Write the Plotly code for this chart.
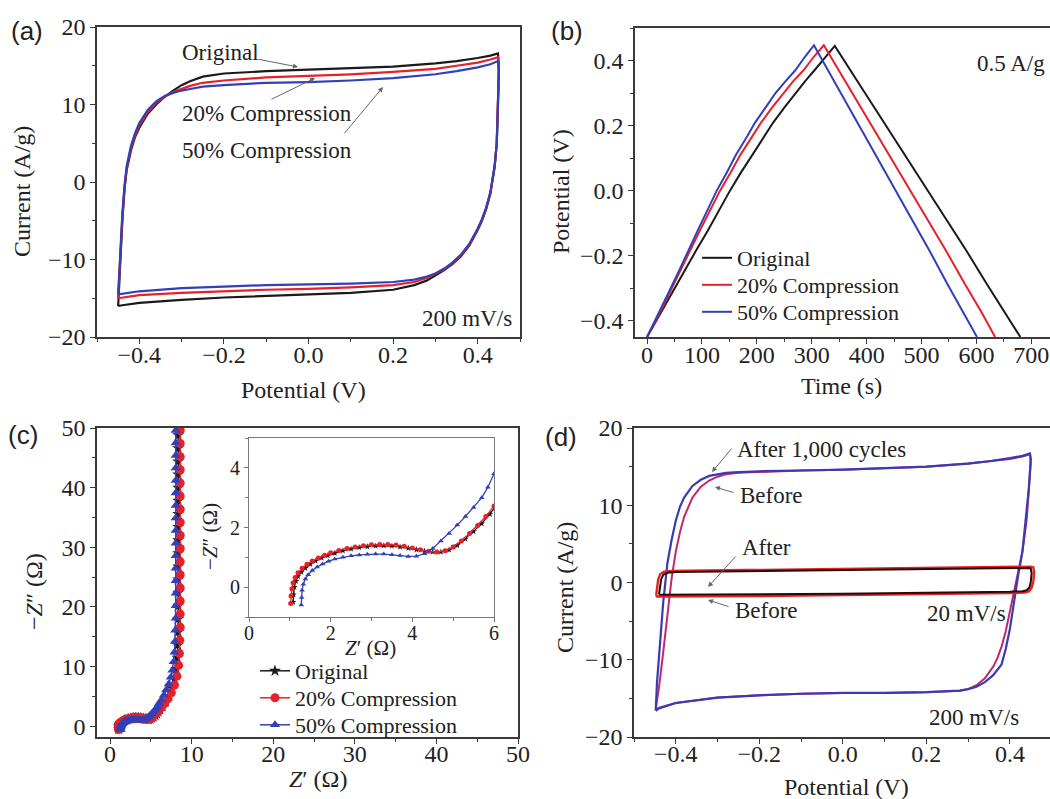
import plotly.graph_objects as go

W, H = 1050, 799
SERIF = "Liberation Serif"
SANS = "Liberation Sans"
BLACK = "#1a1a1a"
RED = "#e8202a"
BLUE = "#3040b8"

# ---------------- (a) CV at 200 mV/s ----------------
cv_v = [-0.45, -0.445, -0.44, -0.435, -0.43, -0.42, -0.41, -0.40, -0.38, -0.36, -0.34, -0.32, -0.30, -0.28, -0.25,
        -0.20, -0.10, 0.00, 0.10, 0.20, 0.30, 0.35, 0.40, 0.43, 0.448,
        0.45, 0.448, 0.445, 0.44, 0.435, 0.43, 0.42, 0.41, 0.40, 0.38, 0.36, 0.34, 0.32, 0.30, 0.28, 0.25,
        0.20, 0.10, 0.00, -0.10, -0.20, -0.30, -0.40, -0.44, -0.45]
cv_orig = [-16.0, -10.0, -5.0, -1.0, 1.5, 4.0, 5.8, 7.0, 8.8, 10.0, 11.0, 11.8, 12.5, 13.0, 13.6,
           14.0, 14.3, 14.5, 14.7, 14.9, 15.3, 15.6, 16.0, 16.3, 16.6,
           15.0, 10.0, 5.0, 2.0, 0.0, -1.5, -3.5, -5.0, -6.2, -8.2, -9.6, -10.6, -11.4, -12.1, -12.7, -13.3,
           -13.9, -14.3, -14.5, -14.7, -14.9, -15.2, -15.6, -15.9, -16.0]
cv_c20 = [-15.0, -9.0, -4.5, -0.8, 1.7, 4.3, 6.0, 7.3, 9.0, 10.2, 11.0, 11.6, 12.0, 12.4, 12.8,
          13.1, 13.5, 13.7, 13.9, 14.2, 14.6, 15.0, 15.4, 15.8, 16.1,
          14.5, 9.8, 5.0, 2.0, 0.1, -1.4, -3.4, -4.9, -6.1, -8.1, -9.5, -10.5, -11.3, -11.9, -12.4, -12.9,
          -13.3, -13.6, -13.8, -13.9, -14.1, -14.3, -14.6, -14.9, -15.0]
cv_c50 = [-14.5, -8.5, -4.0, -0.5, 2.0, 4.6, 6.3, 7.6, 9.3, 10.4, 11.1, 11.5, 11.8, 12.0, 12.3,
          12.5, 12.8, 12.9, 13.1, 13.4, 13.9, 14.3, 14.8, 15.2, 15.6,
          14.0, 9.6, 5.0, 2.0, 0.2, -1.3, -3.3, -4.8, -6.0, -8.0, -9.4, -10.4, -11.2, -11.8, -12.2, -12.6,
          -12.9, -13.1, -13.2, -13.3, -13.5, -13.7, -14.1, -14.4, -14.5]

# ---------------- (b) GCD at 0.5 A/g ----------------
t_orig = [0, 15, 30, 50, 70, 90, 110, 130, 151, 170, 190, 210, 230, 250, 270, 288, 305, 324, 342,
          380, 420, 460, 500, 540, 580, 620, 650, 680]
v_orig = [-0.45, -0.405, -0.36, -0.30, -0.24, -0.182, -0.125, -0.062, 0.0, 0.053, 0.105, 0.158, 0.21, 0.255,
          0.30, 0.337, 0.37, 0.408, 0.445,
          0.345, 0.24, 0.135, 0.03, -0.075, -0.18, -0.29, -0.37, -0.45]
t_c20 = [0, 14, 28, 45, 62, 80, 97, 115, 133, 152, 170, 189, 208, 228, 248, 266, 285, 303, 322,
         358, 395, 432, 469, 506, 543, 580, 608, 634]
v_c20 = [-0.45, -0.405, -0.36, -0.30, -0.24, -0.18, -0.12, -0.06, 0.0, 0.055, 0.11, 0.16, 0.21, 0.256,
         0.30, 0.336, 0.37, 0.41, 0.447,
         0.345, 0.24, 0.135, 0.03, -0.075, -0.18, -0.29, -0.37, -0.45]
t_c50 = [0, 13, 27, 43, 60, 76, 93, 110, 127, 145, 162, 180, 197, 216, 234, 252, 270, 287, 304,
         338, 373, 408, 443, 478, 513, 548, 575, 601]
v_c50 = [-0.45, -0.405, -0.36, -0.30, -0.24, -0.18, -0.12, -0.06, 0.0, 0.055, 0.11, 0.16, 0.21, 0.256,
         0.30, 0.336, 0.37, 0.41, 0.447,
         0.345, 0.24, 0.135, 0.03, -0.075, -0.18, -0.29, -0.37, -0.45]

# ---------------- (c) Nyquist ----------------
zr_orig = [1.08, 1.09, 1.11, 1.15, 1.2, 1.28, 1.38, 1.5, 1.63, 1.78, 1.93, 2.1, 2.3, 2.5, 2.7, 2.9, 3.1, 3.3, 3.5,
           3.7, 3.9, 4.1, 4.3, 4.5, 4.7, 4.9, 5.1, 5.3, 5.5, 5.7, 5.9, 6.1, 6.4, 6.8, 7.2, 7.6, 7.9, 8.1, 8.25,
           8.3, 8.35, 8.35, 8.35, 8.35, 8.35, 8.35, 8.35, 8.35, 8.35, 8.35, 8.35, 8.35, 8.35, 8.35, 8.35, 8.35]
zi_orig = [-0.5, -0.25, 0.0, 0.2, 0.36, 0.5, 0.64, 0.77, 0.88, 0.98, 1.06, 1.14, 1.22, 1.28, 1.33, 1.36, 1.38,
           1.39, 1.38, 1.35, 1.31, 1.26, 1.21, 1.18, 1.18, 1.25, 1.4, 1.62, 1.87, 2.13, 2.45, 2.8, 3.3, 4.1, 5.1,
           6.4, 7.9, 9.6, 11.5, 13.6, 15.8, 18.0, 20.2, 22.4, 24.6, 26.8, 29.0, 31.2, 33.4, 35.6, 37.8, 40.0,
           42.2, 44.4, 46.6, 48.8]
zr_c20 = [1.02, 1.03, 1.05, 1.08, 1.13, 1.2, 1.3, 1.42, 1.55, 1.7, 1.85, 2.0, 2.2, 2.4, 2.6, 2.8, 3.0, 3.2, 3.4,
          3.6, 3.8, 4.0, 4.2, 4.4, 4.6, 4.8, 5.0, 5.2, 5.4, 5.6, 5.8, 6.0, 6.3, 6.7, 7.1, 7.5, 7.9, 8.2, 8.4,
          8.5, 8.55, 8.6, 8.6, 8.6, 8.6, 8.6, 8.6, 8.6, 8.6, 8.6, 8.6, 8.6, 8.6, 8.6, 8.6, 8.6, 8.6]
zi_c20 = [-0.55, -0.3, -0.05, 0.15, 0.32, 0.48, 0.63, 0.77, 0.88, 0.98, 1.07, 1.15, 1.23, 1.3, 1.35, 1.39, 1.42,
          1.43, 1.43, 1.41, 1.37, 1.31, 1.25, 1.2, 1.18, 1.22, 1.35, 1.55, 1.8, 2.07, 2.37, 2.72, 3.15, 3.8,
          4.6, 5.6, 6.9, 8.4, 10.2, 12.2, 14.4, 16.6, 18.8, 21.0, 23.2, 25.4, 27.6, 29.8, 32.0, 34.2, 36.4,
          38.6, 40.8, 43.0, 45.2, 47.4, 49.6]
zr_c50 = [1.28, 1.29, 1.3, 1.33, 1.38, 1.45, 1.55, 1.67, 1.8, 1.95, 2.1, 2.3, 2.5, 2.7, 2.9, 3.1, 3.3, 3.5, 3.7,
          3.9, 4.1, 4.3, 4.5, 4.7, 4.9, 5.1, 5.3, 5.5, 5.7, 5.85, 6.0, 6.3, 6.6, 6.9, 7.2, 7.45, 7.65, 7.8, 7.9,
          7.95, 8.0, 8.05, 8.05, 8.05, 8.05, 8.05, 8.05, 8.05, 8.05, 8.05, 8.05, 8.05, 8.05, 8.05, 8.05, 8.05, 8.05]
zi_c50 = [-0.6, -0.35, -0.1, 0.1, 0.27, 0.42, 0.56, 0.68, 0.78, 0.87, 0.94, 1.0, 1.05, 1.08, 1.1, 1.11, 1.11,
          1.09, 1.06, 1.03, 1.04, 1.12, 1.3, 1.55, 1.8, 2.08, 2.37, 2.67, 3.0, 3.35, 3.8, 4.4, 5.2, 6.1, 7.1,
          8.2, 9.4, 10.8, 12.4, 14.2, 16.1, 18.1, 20.2, 22.3, 24.4, 26.5, 28.6, 30.7, 32.8, 34.9, 37.0, 39.1,
          41.2, 43.3, 45.4, 47.5, 49.6]

# ---------------- (d) cycling CVs ----------------
v200_after = [-0.448, -0.445, -0.44, -0.435, -0.43, -0.425, -0.42, -0.41, -0.40, -0.39, -0.38, -0.36, -0.34, -0.32,
              -0.30, -0.28, -0.25, -0.20, -0.10, 0.00, 0.10, 0.20, 0.30, 0.35, 0.40, 0.43, 0.448,
              0.45, 0.445, 0.44, 0.435, 0.43, 0.42, 0.41, 0.40, 0.39, 0.38, 0.36, 0.34, 0.32, 0.30, 0.28, 0.25,
              0.20, 0.10, 0.00, -0.10, -0.20, -0.30, -0.40, -0.44, -0.448]
i200_after = [-16.6, -13.0, -9.5, -5.5, -2.5, 0.0, 2.5, 5.5, 8.0, 9.8, 11.0, 12.5, 13.3, 13.8,
              14.0, 14.2, 14.3, 14.4, 14.5, 14.6, 14.8, 15.0, 15.4, 15.7, 16.1, 16.4, 16.7,
              16.0, 12.0, 9.5, 6.5, 4.0, 1.0, -2.5, -6.0, -8.6, -10.6, -12.0, -12.9, -13.5, -13.8, -14.0, -14.1,
              -14.2, -14.3, -14.3, -14.4, -14.6, -14.9, -15.6, -16.3, -16.6]
v200_before = [-0.448, -0.44, -0.43, -0.42, -0.41, -0.40, -0.39, -0.38, -0.36, -0.34, -0.32, -0.30, -0.28, -0.25,
               -0.20, -0.10, 0.00, 0.10, 0.20, 0.30, 0.35, 0.40, 0.43, 0.448,
               0.45, 0.445, 0.44, 0.43, 0.42, 0.41, 0.40, 0.39, 0.38, 0.37, 0.36, 0.34, 0.32, 0.30, 0.28, 0.25,
               0.20, 0.10, 0.00, -0.10, -0.20, -0.30, -0.40, -0.44, -0.448]
i200_before = [-16.4, -13.5, -9.0, -4.0, 0.5, 4.0, 6.5, 8.5, 11.0, 12.4, 13.2, 13.7, 14.0, 14.2,
               14.3, 14.5, 14.6, 14.8, 15.0, 15.4, 15.7, 16.0, 16.3, 16.6,
               15.5, 11.0, 8.0, 4.0, 1.5, -1.0, -3.8, -6.3, -8.3, -9.8, -10.9, -12.4, -13.3, -13.8, -14.0, -14.1,
               -14.2, -14.3, -14.3, -14.4, -14.6, -14.9, -15.6, -16.2, -16.4]
v20_after = [-0.44, -0.438, -0.435, -0.43, -0.42, -0.40, -0.30, -0.20, -0.10, 0.00, 0.10, 0.20, 0.30, 0.40, 0.43,
             0.445, 0.45, 0.452, 0.45, 0.447, 0.44, 0.43, 0.40, 0.30, 0.20, 0.10, 0.00, -0.10, -0.20, -0.30, -0.40,
             -0.43, -0.438, -0.44]
i20_after = [-1.5, -0.6, 0.4, 1.0, 1.25, 1.35, 1.42, 1.48, 1.54, 1.6, 1.65, 1.7, 1.76, 1.82, 1.85,
             1.88, 1.8, 1.2, 0.1, -0.6, -1.0, -1.12, -1.2, -1.28, -1.34, -1.4, -1.45, -1.5, -1.55, -1.6, -1.65,
             -1.66, -1.6, -1.5]
v20_before = [-0.447, -0.445, -0.442, -0.437, -0.428, -0.41, -0.30, -0.20, -0.10, 0.00, 0.10, 0.20, 0.30, 0.40,
              0.435, 0.45, 0.456, 0.458, 0.456, 0.452, 0.445, 0.435, 0.40, 0.30, 0.20, 0.10, 0.00, -0.10, -0.20,
              -0.30, -0.40, -0.435, -0.445, -0.447]
i20_before = [-1.7, -0.7, 0.4, 1.1, 1.4, 1.5, 1.56, 1.62, 1.68, 1.74, 1.8, 1.86, 1.92, 1.98,
              2.02, 2.05, 1.95, 1.3, 0.1, -0.7, -1.15, -1.3, -1.38, -1.46, -1.52, -1.58, -1.64, -1.7, -1.76,
              -1.82, -1.88, -1.9, -1.82, -1.7]

series_names = ["Original", "20% Compression", "50% Compression"]

fig = go.Figure()

# (a)
for y, c in [(cv_orig, BLACK), (cv_c20, RED), (cv_c50, BLUE)]:
    fig.add_trace(go.Scatter(x=cv_v, y=y, mode="lines", line=dict(color=c, width=2.2),
                             xaxis="x", yaxis="y", showlegend=False, hoverinfo="skip"))
# (b)
for (t, v, c, n, lg) in [(t_orig, v_orig, BLACK, series_names[0], "legend"),
                         (t_c20, v_c20, RED, series_names[1], "legend2"),
                         (t_c50, v_c50, BLUE, series_names[2], "legend3")]:
    fig.add_trace(go.Scatter(x=t, y=v, mode="lines", name=n, line=dict(color=c, width=2),
                             xaxis="x2", yaxis="y2", legend=lg))
# (c) main
for (zr, zi, c, sym, n, lg) in [(zr_orig, zi_orig, BLACK, "star", series_names[0], "legend4"),
                                (zr_c20, zi_c20, RED, "circle", series_names[1], "legend5"),
                                (zr_c50, zi_c50, BLUE, "triangle-up", series_names[2], "legend6")]:
    fig.add_trace(go.Scatter(x=zr, y=zi, mode="lines+markers", name=n,
                             line=dict(color=c, width=1.5), marker=dict(symbol=sym, size=9, color=c),
                             xaxis="x3", yaxis="y3", legend=lg))
# (c) inset
for (zr, zi, c, sym) in [(zr_orig, zi_orig, BLACK, "star"), (zr_c20, zi_c20, RED, "circle"),
                         (zr_c50, zi_c50, BLUE, "triangle-up")]:
    fig.add_trace(go.Scatter(x=zr, y=zi, mode="lines+markers", line=dict(color=c, width=1.3),
                             marker=dict(symbol=sym, size=5, color=c), cliponaxis=True,
                             xaxis="x5", yaxis="y5", showlegend=False))
# (d)
fig.add_trace(go.Scatter(x=v200_before, y=i200_before, mode="lines", line=dict(color="#c0286a", width=2),
                         xaxis="x4", yaxis="y4", showlegend=False))
fig.add_trace(go.Scatter(x=v200_after, y=i200_after, mode="lines", line=dict(color="#3a3ab4", width=2.2),
                         xaxis="x4", yaxis="y4", showlegend=False))
fig.add_trace(go.Scatter(x=v20_before, y=i20_before, mode="lines", line=dict(color="#e02424", width=2.4),
                         xaxis="x4", yaxis="y4", showlegend=False))
fig.add_trace(go.Scatter(x=v20_after, y=i20_after, mode="lines", line=dict(color="#2a0808", width=2),
                         xaxis="x4", yaxis="y4", showlegend=False))


def px(x):
    return x / W


def py(y):
    return 1 - y / H


def axis(domain, rng, dtick, mdtick, anchor, fmt=None, size=24, lc="#3a3a3a", lw=1.5, tl=5, stand=0):
    d = dict(domain=domain, range=rng, dtick=dtick, tick0=0, anchor=anchor, showgrid=False, zeroline=False,
             showline=True, mirror=True, linecolor=lc, linewidth=lw, ticks="outside", ticklen=tl,
             tickwidth=1.3, tickcolor=lc, automargin=False, ticklabelstandoff=stand,
             tickfont=dict(family=SERIF, size=size, color="#222"),
             minor=dict(dtick=mdtick, tick0=0, ticks="outside", ticklen=3, tickwidth=1.2, tickcolor=lc))
    if fmt:
        d["tickformat"] = fmt
    return d


def legend_at(x, y):
    return dict(x=px(x), y=py(y), xanchor="left", yanchor="middle", bgcolor="rgba(0,0,0,0)",
                font=dict(family=SERIF, size=22, color="#222"), itemwidth=30)


ya_dom = [py(337), py(27)]
yc_dom = [py(737), py(428)]

layout = dict(
    width=W, height=H, margin=dict(l=0, r=0, t=0, b=0),
    paper_bgcolor="white", plot_bgcolor="rgba(0,0,0,0)",
    xaxis=axis([px(97), px(520)], [-0.5, 0.5], 0.2, 0.1, "y", ".1f", stand=-10),
    yaxis=axis(ya_dom, [-20, 20], 10, 5, "x"),
    xaxis2=axis([px(635), 1.0], [-22, 734], 100, 50, "y2", stand=-10),
    yaxis2=axis([py(337), py(28)], [-0.45, 0.5], 0.2, 0.1, "x2", ".1f"),
    xaxis3=axis([px(97), px(518)], [-1.6, 50], 10, 5, "y3", stand=-11),
    yaxis3=axis(yc_dom, [-1.8, 50], 10, 5, "x3"),
    xaxis4=axis([px(634), 1.0], [-0.5, 0.496], 0.2, 0.1, "y4", ".1f", stand=-11),
    yaxis4=axis(yc_dom, [-20, 20], 10, 5, "x4"),
    xaxis5=axis([px(249), px(494)], [0, 6], 2, 1, "y5", size=20, lc="#777", lw=1.2, tl=4, stand=-6),
    yaxis5=axis([py(617), py(438)], [-1, 5], 2, 1, "x5", size=20, lc="#777", lw=1.2, tl=4),
    legend=legend_at(697, 258), legend2=legend_at(697, 285), legend3=legend_at(697, 312),
    legend4=legend_at(255, 671), legend5=legend_at(255, 698), legend6=legend_at(255, 725),
)
fig.update_layout(**layout)

ann = []
# panel labels
for lab, x, y in [("(a)", 27, 31), ("(b)", 567, 31), ("(c)", 23, 435), ("(d)", 561, 437)]:
    ann.append(dict(text=lab, x=px(x), y=py(y), xref="paper", yref="paper", showarrow=False,
                    xanchor="center", yanchor="middle", font=dict(family=SANS, size=26, color="#222")))


def txt(t, x, y, anchor="left", size=23, angle=0):
    ann.append(dict(text=t, x=px(x), y=py(y), xref="paper", yref="paper", showarrow=False,
                    xanchor=anchor, yanchor="middle", textangle=angle,
                    font=dict(family=SERIF, size=size, color="#222")))


def arrow(hx, hy, tx, ty):
    ann.append(dict(text="", x=px(hx), y=py(hy), xref="paper", yref="paper", showarrow=True,
                    ax=tx - hx, ay=ty - hy, arrowhead=2, arrowsize=1, arrowwidth=1, arrowcolor="#666"))


# axis titles
txt("Potential (V)", 303, 390, "center", 24)
txt("Current (A/g)", 22, 192, "center", 24, -90)
txt("Time (s)", 841, 386, "center", 24)
txt("Potential (V)", 561, 192, "center", 24, -90)
txt("<i>Z</i>′ (Ω)", 318, 779, "center", 24)
txt("−<i>Z</i>″ (Ω)", 34, 592, "center", 24, -90)
txt("Potential (V)", 846, 787, "center", 24)
txt("Current (A/g)", 565, 588, "center", 24, -90)
txt("<i>Z</i>′ (Ω)", 370, 648, "center", 21)
txt("−<i>Z</i>″ (Ω)", 210, 537, "center", 21, -90)

# (a)
txt("Original", 180, 52)
arrow(298, 67, 257, 59)
txt("20% Compression", 180, 113)
arrow(315, 78, 270, 100)
txt("50% Compression", 180, 150)
arrow(383, 87, 343, 135)
txt("200 mV/s", 467, 318, "center")
# (b)
txt("0.5 A/g", 1011, 63, "center")
# (d)
txt("After 1,000 cycles", 735, 449)
arrow(712, 472, 733, 447)
txt("Before", 738, 495)
arrow(715, 487, 735, 493)
txt("After", 740, 547)
arrow(708, 587, 737, 555)
txt("Before", 733, 610)
arrow(708, 600, 730, 607)
txt("20 mV/s", 966, 613, "center")
txt("200 mV/s", 974, 717, "center")

fig.update_layout(annotations=ann)
fig.write_html("out.html", config={"displayModeBar": False},
               post_script="document.body.style.margin='0';document.body.style.overflow='hidden';")
